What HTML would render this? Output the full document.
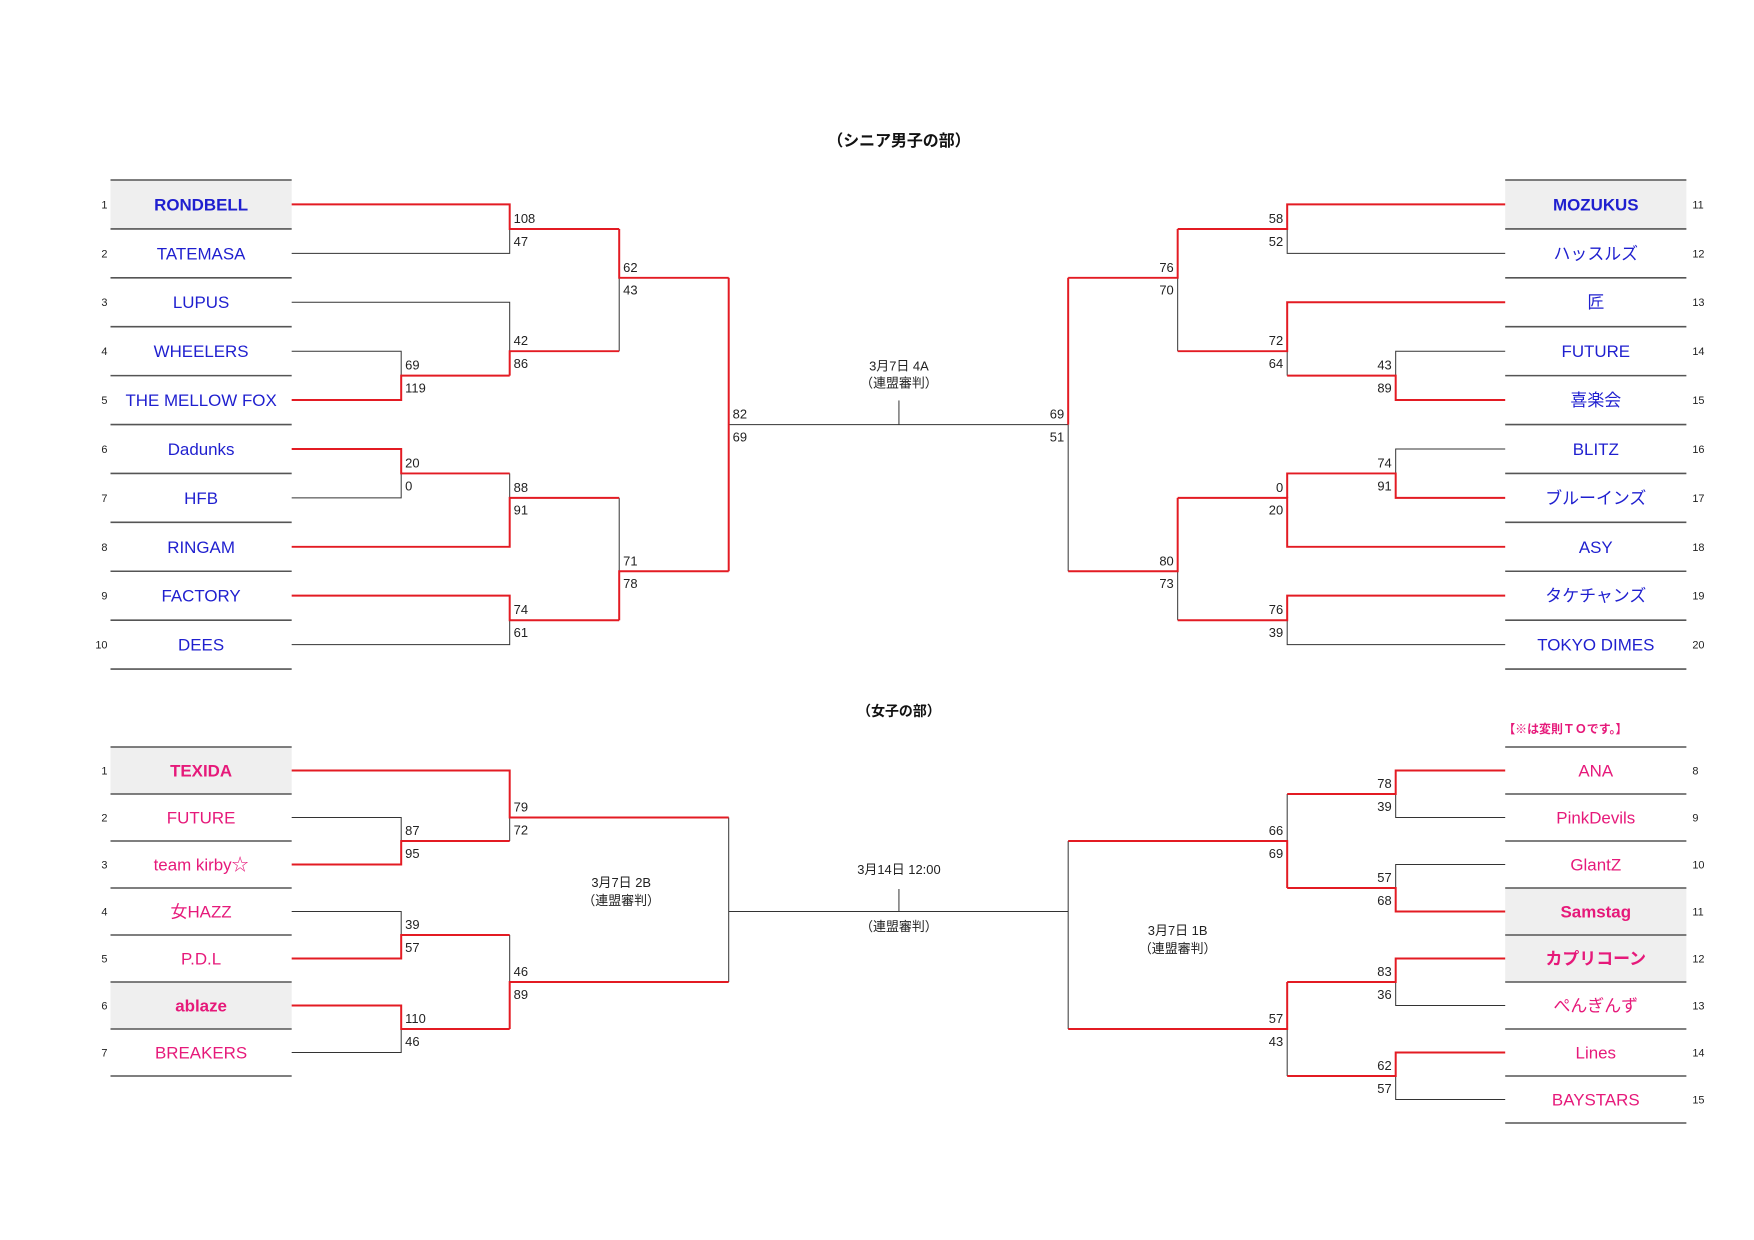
<!DOCTYPE html>
<html><head><meta charset="utf-8"><style>
html,body{margin:0;padding:0;background:#fff}
svg{display:block}
text{font-family:"Liberation Sans","Noto Sans CJK JP",sans-serif}
.n{font-size:11px;fill:#222}
.s{font-size:13px;fill:#222}
.sr{font-size:13px;fill:#222;text-anchor:end}
.tb{font-size:17px;fill:#1f1fcf;text-anchor:middle}
.tp{font-size:17px;fill:#e6197a;text-anchor:middle}
.b{font-weight:bold}
.c{font-size:13px;fill:#222;text-anchor:middle}
.r{fill:none;stroke:#e31b23;stroke-width:2}
.k{fill:none;stroke:#333;stroke-width:1}
.g{stroke:#555;stroke-width:1.6}
</style></head><body>
<svg width="1754" height="1240" viewBox="0 0 1754 1240" xmlns="http://www.w3.org/2000/svg">
<g transform="scale(0.9955,1)">
<!-- ================= MEN ================= -->
<g transform="matrix(1 0 0 0.993 0 1.26)">
<text x="903" y="146" text-anchor="middle" font-size="16" font-weight="bold" fill="#111">（シニア男子の部）</text>
<rect x="111" y="180" width="182" height="49.25" fill="#efefef"/>
<rect x="1512" y="180" width="182" height="49.25" fill="#efefef"/>
<g class="g">
<line x1="111" x2="293" y1="180" y2="180"/><line x1="111" x2="293" y1="229.25" y2="229.25"/><line x1="111" x2="293" y1="278.5" y2="278.5"/><line x1="111" x2="293" y1="327.75" y2="327.75"/><line x1="111" x2="293" y1="377" y2="377"/><line x1="111" x2="293" y1="426.25" y2="426.25"/><line x1="111" x2="293" y1="475.5" y2="475.5"/><line x1="111" x2="293" y1="524.75" y2="524.75"/><line x1="111" x2="293" y1="574" y2="574"/><line x1="111" x2="293" y1="623.25" y2="623.25"/><line x1="111" x2="293" y1="672.5" y2="672.5"/>
<line x1="1512" x2="1694" y1="180" y2="180"/><line x1="1512" x2="1694" y1="229.25" y2="229.25"/><line x1="1512" x2="1694" y1="278.5" y2="278.5"/><line x1="1512" x2="1694" y1="327.75" y2="327.75"/><line x1="1512" x2="1694" y1="377" y2="377"/><line x1="1512" x2="1694" y1="426.25" y2="426.25"/><line x1="1512" x2="1694" y1="475.5" y2="475.5"/><line x1="1512" x2="1694" y1="524.75" y2="524.75"/><line x1="1512" x2="1694" y1="574" y2="574"/><line x1="1512" x2="1694" y1="623.25" y2="623.25"/><line x1="1512" x2="1694" y1="672.5" y2="672.5"/>
</g>
<text class="tb b" x="202" y="210.6">RONDBELL</text>
<text class="tb" x="202" y="259.9">TATEMASA</text>
<text class="tb" x="202" y="309.1">LUPUS</text>
<text class="tb" x="202" y="358.4">WHEELERS</text>
<text class="tb" x="202" y="407.6">THE MELLOW FOX</text>
<text class="tb" x="202" y="456.9">Dadunks</text>
<text class="tb" x="202" y="506.1">HFB</text>
<text class="tb" x="202" y="555.4">RINGAM</text>
<text class="tb" x="202" y="604.6">FACTORY</text>
<text class="tb" x="202" y="653.9">DEES</text>
<text class="tb b" x="1603" y="210.6">MOZUKUS</text>
<text class="tb" x="1603" y="259.9">ハッスルズ</text>
<text class="tb" x="1603" y="309.1">匠</text>
<text class="tb" x="1603" y="358.4">FUTURE</text>
<text class="tb" x="1603" y="407.6">喜楽会</text>
<text class="tb" x="1603" y="456.9">BLITZ</text>
<text class="tb" x="1603" y="506.1">ブルーインズ</text>
<text class="tb" x="1603" y="555.4">ASY</text>
<text class="tb" x="1603" y="604.6">タケチャンズ</text>
<text class="tb" x="1603" y="653.9">TOKYO DIMES</text>
<g class="n" text-anchor="end">
<text x="108" y="208.6">1</text><text x="108" y="257.9">2</text><text x="108" y="307.1">3</text><text x="108" y="356.4">4</text><text x="108" y="405.6">5</text><text x="108" y="454.9">6</text><text x="108" y="504.1">7</text><text x="108" y="553.4">8</text><text x="108" y="602.6">9</text><text x="108" y="651.9">10</text>
</g>
<g class="n">
<text x="1700" y="208.6">11</text><text x="1700" y="257.9">12</text><text x="1700" y="307.1">13</text><text x="1700" y="356.4">14</text><text x="1700" y="405.6">15</text><text x="1700" y="454.9">16</text><text x="1700" y="504.1">17</text><text x="1700" y="553.4">18</text><text x="1700" y="602.6">19</text><text x="1700" y="651.9">20</text>
</g>
<path class="k" d="M293 352.4 H403 V377"/>
<path class="k" d="M293 500.1 H403 V475.5"/>
<path class="k" d="M293 253.9 H512 V229.3"/>
<path class="k" d="M293 303.1 H512 V352.4"/>
<path class="k" d="M622 352.4 V278.5"/>
<path class="k" d="M512 475.5 V500.1"/>
<path class="k" d="M293 647.9 H512 V623.3"/>
<path class="k" d="M622 500.1 V574"/>
<path class="k" d="M732 426.3 H1073"/>
<path class="k" d="M903 402 V426.3"/>
<path class="r" d="M293 401.6 H403 V377 H512"/>
<path class="r" d="M293 450.9 H403 V475.5 H512"/>
<path class="r" d="M293 204.6 H512 V229.3 H622"/>
<path class="r" d="M512 377 V352.4 H622"/>
<path class="r" d="M622 229.3 V278.5 H732"/>
<path class="r" d="M293 549.4 H512 V500.1 H622"/>
<path class="r" d="M293 598.6 H512 V623.3 H622"/>
<path class="r" d="M622 623.3 V574 H732"/>
<path class="r" d="M732 278.5 V574"/>
<path class="k" d="M1512 253.9 H1293 V229.3"/>
<path class="k" d="M1512 352.4 H1402 V377"/>
<path class="k" d="M1293 377 V352.4"/>
<path class="k" d="M1183 352.4 V278.5"/>
<path class="k" d="M1512 450.9 H1402 V475.5"/>
<path class="k" d="M1512 647.9 H1293 V623.3"/>
<path class="k" d="M1183 623.3 V574"/>
<path class="k" d="M1073 426.3 V574"/>
<path class="r" d="M1512 204.6 H1293 V229.3 H1183"/>
<path class="r" d="M1512 401.6 H1402 V377 H1293"/>
<path class="r" d="M1512 303.1 H1293 V352.4 H1183"/>
<path class="r" d="M1183 229.3 V278.5 H1073"/>
<path class="r" d="M1512 500.1 H1402 V475.5 H1293 V500.1"/>
<path class="r" d="M1512 549.4 H1293 V500.1 H1183"/>
<path class="r" d="M1512 598.6 H1293 V623.3 H1183"/>
<path class="r" d="M1183 500.1 V574 H1073"/>
<path class="r" d="M1073 278.5 V426.3"/>
<text class="s" x="407" y="371">69</text><text class="s" x="407" y="394">119</text>
<text class="s" x="407" y="469.5">20</text><text class="s" x="407" y="492.5">0</text>
<text class="s" x="516" y="223.3">108</text><text class="s" x="516" y="246.3">47</text>
<text class="s" x="516" y="346.4">42</text><text class="s" x="516" y="369.4">86</text>
<text class="s" x="626" y="272.5">62</text><text class="s" x="626" y="295.5">43</text>
<text class="s" x="516" y="494.1">88</text><text class="s" x="516" y="517.1">91</text>
<text class="s" x="516" y="617.3">74</text><text class="s" x="516" y="640.3">61</text>
<text class="s" x="626" y="568">71</text><text class="s" x="626" y="591">78</text>
<text class="s" x="736" y="420.3">82</text><text class="s" x="736" y="443.3">69</text>
<text class="sr" x="1289" y="223.3">58</text><text class="sr" x="1289" y="246.3">52</text>
<text class="sr" x="1398" y="371">43</text><text class="sr" x="1398" y="394">89</text>
<text class="sr" x="1289" y="346.4">72</text><text class="sr" x="1289" y="369.4">64</text>
<text class="sr" x="1179" y="272.5">76</text><text class="sr" x="1179" y="295.5">70</text>
<text class="sr" x="1398" y="469.5">74</text><text class="sr" x="1398" y="492.5">91</text>
<text class="sr" x="1289" y="494.1">0</text><text class="sr" x="1289" y="517.1">20</text>
<text class="sr" x="1289" y="617.3">76</text><text class="sr" x="1289" y="640.3">39</text>
<text class="sr" x="1179" y="568">80</text><text class="sr" x="1179" y="591">73</text>
<text class="sr" x="1069" y="420.3">69</text><text class="sr" x="1069" y="443.3">51</text>
<text class="c" x="903" y="372">3月7日 4A</text>
<text class="c" x="903" y="389">（連盟審判）</text>
</g>

<!-- ================= WOMEN ================= -->
<text x="903" y="716" text-anchor="middle" font-size="14" font-weight="bold" fill="#111">（女子の部）</text>
<text x="1510" y="733" font-size="12" font-weight="bold" fill="#e6197a">【※は変則ＴＯです。】</text>
<rect x="111" y="747" width="182" height="47" fill="#efefef"/>
<rect x="111" y="982" width="182" height="47" fill="#efefef"/>
<rect x="1512" y="888" width="182" height="94" fill="#efefef"/>
<g class="g">
<line x1="111" x2="293" y1="747" y2="747"/><line x1="111" x2="293" y1="794" y2="794"/><line x1="111" x2="293" y1="841" y2="841"/><line x1="111" x2="293" y1="888" y2="888"/><line x1="111" x2="293" y1="935" y2="935"/><line x1="111" x2="293" y1="982" y2="982"/><line x1="111" x2="293" y1="1029" y2="1029"/><line x1="111" x2="293" y1="1076" y2="1076"/>
<line x1="1512" x2="1694" y1="747" y2="747"/><line x1="1512" x2="1694" y1="794" y2="794"/><line x1="1512" x2="1694" y1="841" y2="841"/><line x1="1512" x2="1694" y1="888" y2="888"/><line x1="1512" x2="1694" y1="935" y2="935"/><line x1="1512" x2="1694" y1="982" y2="982"/><line x1="1512" x2="1694" y1="1029" y2="1029"/><line x1="1512" x2="1694" y1="1076" y2="1076"/><line x1="1512" x2="1694" y1="1123" y2="1123"/>
</g>
<text class="tp b" x="202" y="776.5">TEXIDA</text>
<text class="tp" x="202" y="823.5">FUTURE</text>
<text class="tp" x="202" y="870.5">team kirby☆</text>
<text class="tp" x="202" y="917.5">女HAZZ</text>
<text class="tp" x="202" y="964.5">P.D.L</text>
<text class="tp b" x="202" y="1011.5">ablaze</text>
<text class="tp" x="202" y="1058.5">BREAKERS</text>
<text class="tp" x="1603" y="776.5">ANA</text>
<text class="tp" x="1603" y="823.5">PinkDevils</text>
<text class="tp" x="1603" y="870.5">GlantZ</text>
<text class="tp b" x="1603" y="917.5">Samstag</text>
<text class="tp b" x="1603" y="964.5">カプリコーン</text>
<text class="tp" x="1603" y="1011.5">ぺんぎんず</text>
<text class="tp" x="1603" y="1058.5">Lines</text>
<text class="tp" x="1603" y="1105.5">BAYSTARS</text>
<g class="n" text-anchor="end">
<text x="108" y="774.5">1</text><text x="108" y="821.5">2</text><text x="108" y="868.5">3</text><text x="108" y="915.5">4</text><text x="108" y="962.5">5</text><text x="108" y="1009.5">6</text><text x="108" y="1056.5">7</text>
</g>
<g class="n">
<text x="1700" y="774.5">8</text><text x="1700" y="821.5">9</text><text x="1700" y="868.5">10</text><text x="1700" y="915.5">11</text><text x="1700" y="962.5">12</text><text x="1700" y="1009.5">13</text><text x="1700" y="1056.5">14</text><text x="1700" y="1103.5">15</text>
</g>
<path class="k" d="M293 817.5 H403 V841"/>
<path class="k" d="M512 841 V817.5"/>
<path class="k" d="M293 911.5 H403 V935"/>
<path class="k" d="M293 1052.5 H403 V1029"/>
<path class="k" d="M512 935 V982"/>
<path class="k" d="M732 817.5 V982"/>
<path class="k" d="M732 911.5 H1073"/>
<path class="k" d="M903 889 V911.5"/>
<path class="r" d="M293 864.5 H403 V841 H512"/>
<path class="r" d="M293 770.5 H512 V817.5 H732"/>
<path class="r" d="M293 958.5 H403 V935 H512"/>
<path class="r" d="M293 1005.5 H403 V1029 H512"/>
<path class="r" d="M512 1029 V982 H732"/>
<path class="k" d="M1512 817.5 H1402 V794"/>
<path class="k" d="M1512 864.5 H1402 V888"/>
<path class="k" d="M1293 794 V841"/>
<path class="k" d="M1512 1005.5 H1402 V982"/>
<path class="k" d="M1512 1099.5 H1402 V1076"/>
<path class="k" d="M1293 1076 V1029"/>
<path class="k" d="M1073 841 V1029"/>
<path class="r" d="M1512 770.5 H1402 V794 H1293"/>
<path class="r" d="M1512 911.5 H1402 V888 H1293"/>
<path class="r" d="M1293 888 V841 H1073"/>
<path class="r" d="M1512 958.5 H1402 V982 H1293"/>
<path class="r" d="M1512 1052.5 H1402 V1076 H1293"/>
<path class="r" d="M1293 982 V1029 H1073"/>
<text class="s" x="407" y="835">87</text><text class="s" x="407" y="858">95</text>
<text class="s" x="516" y="811.5">79</text><text class="s" x="516" y="834.5">72</text>
<text class="s" x="407" y="929">39</text><text class="s" x="407" y="952">57</text>
<text class="s" x="407" y="1023">110</text><text class="s" x="407" y="1046">46</text>
<text class="s" x="516" y="976">46</text><text class="s" x="516" y="999">89</text>
<text class="sr" x="1398" y="788">78</text><text class="sr" x="1398" y="811">39</text>
<text class="sr" x="1398" y="882">57</text><text class="sr" x="1398" y="905">68</text>
<text class="sr" x="1289" y="835">66</text><text class="sr" x="1289" y="858">69</text>
<text class="sr" x="1398" y="976">83</text><text class="sr" x="1398" y="999">36</text>
<text class="sr" x="1398" y="1070">62</text><text class="sr" x="1398" y="1093">57</text>
<text class="sr" x="1289" y="1023">57</text><text class="sr" x="1289" y="1046">43</text>
<text class="c" x="624" y="887">3月7日 2B</text>
<text class="c" x="624" y="905">（連盟審判）</text>
<text class="c" x="903" y="874">3月14日 12:00</text>
<text class="c" x="903" y="931">（連盟審判）</text>
<text class="c" x="1183" y="935">3月7日 1B</text>
<text class="c" x="1183" y="953">（連盟審判）</text>
</g>
</svg>
</body></html>
